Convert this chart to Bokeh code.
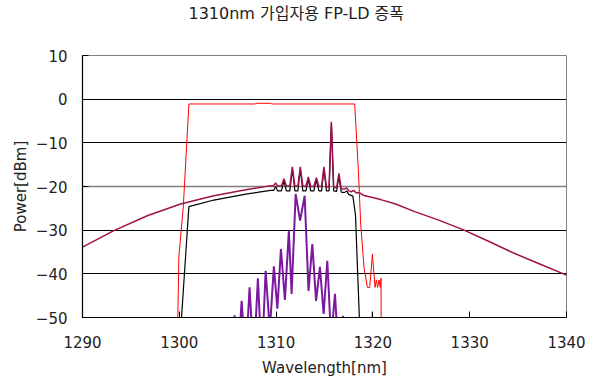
from bokeh.plotting import figure
from bokeh.models import FixedTicker, Span, Title, CustomJSTickFormatter
from bokeh.embed import file_html
from bokeh.resources import INLINE

NAN = float("nan")

TITLE = "1310nm 가입자용 FP-LD 증폭"
X_LABEL = "Wavelength[nm]"
Y_LABEL = "Power[dBm]"
X_TICKS = [1290, 1300, 1310, 1320, 1330, 1340]
Y_TICKS = [-50, -40, -30, -20, -10, 0, 10]
GRID_BLACK = [-40, -30, -10, 0]
GRID_GRAY = -20

# broad amplified spontaneous emission (crimson)
ase_wl = [1290.0, 1293.24, 1296.69, 1300.13, 1303.57, 1307.02, 1309.43,
          1309.75, 1309.95, 1310.15, 1310.55, 1310.81, 1311.06,
          1311.42, 1311.68, 1311.94, 1312.25, 1312.5, 1312.76,
          1313.08, 1313.33, 1313.58, 1313.9, 1314.16, 1314.42,
          1314.7, 1314.94, 1315.2, 1315.47, 1315.71, 1315.95,
          1316.25, 1316.49, 1316.73, 1317.05, 1317.29, 1317.5,
          1317.8, 1318.0, 1318.3, 1318.6, 1319.0, 1320.8, 1322.35,
          1324.25, 1326.8, 1329.42, 1332.0, 1334.6, 1337.3, 1340.0]
ase_db = [-33.9, -30.1, -26.7, -24.0, -22.1, -20.7, -19.8,
          -19.8, -19.2, -19.9, -19.9, -18.2, -19.9,
          -19.9, -15.5, -19.9, -19.9, -15.5, -19.9,
          -20.0, -17.8, -20.0, -20.0, -18.0, -20.0,
          -20.0, -15.5, -20.1, -20.1, -5.2, -20.2,
          -20.3, -17.0, -20.5, -20.6, -20.3, -21.0,
          -21.2, -20.9, -21.5, -21.4, -22.0, -23.0, -24.0,
          -25.7, -27.7, -30.0, -32.6, -35.3, -37.8, -40.3]

# amplified output (black)
out_wl = [1300.15, 1300.23, 1300.99, 1303.57, 1307.02, 1309.43,
          1309.75, 1309.95, 1310.15, 1310.55, 1310.81, 1311.06,
          1311.42, 1311.68, 1311.94, 1312.25, 1312.5, 1312.76,
          1313.08, 1313.33, 1313.58, 1313.9, 1314.16, 1314.42,
          1314.7, 1314.94, 1315.2, 1315.47, 1315.71, 1315.95,
          1316.25, 1316.49, 1316.73, 1317.05, 1317.29, 1317.5,
          1317.93, 1318.2, 1318.6, 1318.65, NAN, 1319.9, 1319.95, 1320.0]
out_db = [-60, -50, -24.6, -23.1, -21.7, -20.9,
          -20.9, -20.0, -21.0, -21.0, -18.7, -21.0,
          -21.0, -16.0, -21.0, -21.0, -16.0, -21.0,
          -21.0, -18.3, -21.0, -21.0, -18.5, -21.0,
          -21.0, -16.0, -21.0, -21.0, -5.6, -21.0,
          -21.1, -17.6, -21.3, -21.4, -21.0, -21.8,
          -22.2, -26.5, -50, -60, NAN, -60, -48.8, -60]

# filter passband (red)
flt_wl = [1299.8, 1299.85, 1299.95, 1300.41, 1300.99, 1307.8, 1308.0, 1309.4,
          1309.6, 1318.12, 1318.5, 1318.74, 1319.08, 1319.43, 1319.67,
          1319.95, 1320.22, 1320.36, 1320.49, 1320.63, 1320.77, 1320.84, 1320.86]
flt_db = [-60, -50, -36.2, -24.7, -1.1, -1.1, -0.95, -0.95,
          -1.1, -1.1, -16.4, -28.6, -38.5, -43.1, -43.1,
          -35.5, -43.1, -41.4, -43.1, -41.4, -43.1, -41.0, -60]

# FP-LD input modes (purple)
fp_wl = [1305.4, 1305.71, 1306.05, 1306.44, 1306.85, 1307.26, 1307.69, 1308.12,
         1308.52, 1308.92, 1309.35, 1309.77, 1310.13, 1310.5, 1310.91, 1311.32,
         1311.6, 1312.02, 1312.48, 1312.95, 1313.35, 1313.74, 1314.13, 1314.53,
         1314.91, 1315.29, 1315.68, 1316.08, 1316.5, 1316.91, 1317.2]
fp_db = [-60, -49.5, -60, -46.2, -60, -43.1, -60, -41.0,
         -60, -39.3, -53, -38.3, -48, -34.3, -46, -30.1,
         -44.6, -21.7, -27.8, -22.1, -43.9, -33.2, -46.2, -38.4,
         -49.2, -37.0, -55, -44.6, -60, -49.6, -60]

FONT = "DejaVu Sans, Noto Sans CJK KR"

p = figure(width=596, height=383, x_range=(1290, 1340), y_range=(-50, 10),
           output_backend="svg", toolbar_location=None,
           min_border_left=82, min_border_right=30, min_border_top=55, min_border_bottom=66,
           background_fill_color="white", border_fill_color="white")
p.title = None

# blank spacer between frame and title, then the title itself
spacer = Title(text=" ", text_font=FONT, text_font_size="16px", standoff=12)
p.add_layout(spacer, "above")
title = Title(text=TITLE, align="left", offset=106, standoff=0,
              text_font=FONT, text_font_size="16px",
              text_font_style="normal", text_color="#222222")
p.add_layout(title, "above")

p.outline_line_color = "#808080"
p.outline_line_width = 1
p.xgrid.visible = False
p.ygrid.ticker = FixedTicker(ticks=GRID_BLACK)
p.ygrid.grid_line_color = "black"
p.ygrid.grid_line_width = 1
p.add_layout(Span(location=GRID_GRAY, dimension="width", line_color="#7f7f7f",
                  line_width=1.6, level="underlay"))

fmt = CustomJSTickFormatter(code="return tick < 0 ? '\u2212' + Math.abs(tick) : String(tick);")
for ax, ticks in ((p.xaxis, X_TICKS), (p.yaxis, Y_TICKS)):
    ax.ticker = FixedTicker(ticks=ticks)
    ax.major_tick_in = 6
    ax.major_tick_out = 0
    ax.minor_tick_in = 0
    ax.minor_tick_out = 0
    ax.axis_line_color = "black"
    ax.axis_line_width = 1.2
    ax.major_tick_line_color = "black"
    ax.major_label_text_font = FONT
    ax.major_label_text_font_size = "15px"
    ax.major_label_text_color = "#222222"
    ax.axis_label_text_font = FONT
    ax.axis_label_text_font_size = "15px"
    ax.axis_label_text_font_style = "normal"
    ax.axis_label_text_color = "#222222"
p.yaxis.formatter = fmt
p.xaxis.axis_label = X_LABEL
p.yaxis.axis_label = Y_LABEL
p.xaxis.major_label_standoff = 18
p.yaxis.major_label_standoff = 15
p.xaxis.axis_label_standoff = 8
p.yaxis.axis_label_standoff = 3

p.line(out_wl, out_db, line_color="black", line_width=1.2)
p.line(ase_wl, ase_db, line_color="#A0104C", line_width=1.5)
p.line(fp_wl, fp_db, line_color="#7B189F", line_width=2)
p.line(flt_wl, flt_db, line_color="#FF0000", line_width=1)

open("out.html", "w").write(file_html(p, INLINE))
